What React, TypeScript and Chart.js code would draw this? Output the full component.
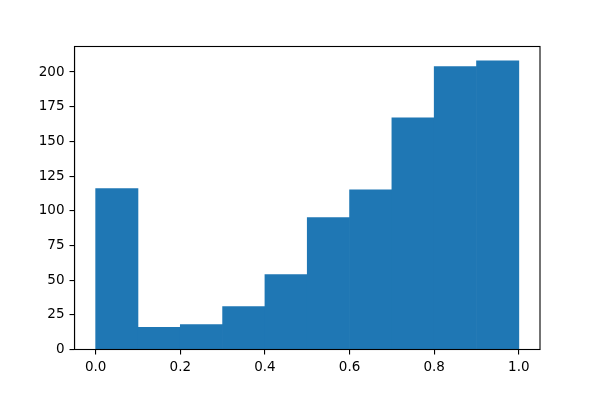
import React, { useEffect, useRef } from "react";
import { Chart, registerables } from "chart.js";

Chart.register(...registerables);

const binStarts = [0.0, 0.1, 0.2, 0.3, 0.4, 0.5, 0.6, 0.7, 0.8, 0.9];
const binWidth = 0.1;
const counts = [116, 16, 18, 31, 54, 95, 115, 167, 204, 208];
const xTicks = [0.0, 0.2, 0.4, 0.6, 0.8, 1.0];
const yTicks = [0, 25, 50, 75, 100, 125, 150, 175, 200];

const frame = {
  id: "frame",
  afterDatasetsDraw(chart: any) {
    const { ctx, chartArea } = chart;
    ctx.save();
    ctx.strokeStyle = "#000";
    ctx.lineWidth = 1.1;
    ctx.strokeRect(chartArea.left, chartArea.top, chartArea.right - chartArea.left, chartArea.bottom - chartArea.top);
    ctx.restore();
  },
};

export default function App() {
  const ref = useRef<HTMLCanvasElement | null>(null);
  useEffect(() => {
    if (!ref.current) return;
    const font = { family: "'DejaVu Sans', sans-serif", size: 13.5 };
    const chart = new Chart(ref.current, {
      type: "bar",
      data: {
        datasets: [
          {
            data: binStarts.map((s, i) => ({ x: s + binWidth / 2, y: counts[i] })),
            backgroundColor: "#1f77b4",
            borderWidth: 0,
            barPercentage: 1,
            categoryPercentage: 1,
          },
        ],
      },
      options: {
        animation: false,
        responsive: false,
        maintainAspectRatio: false,
        layout: { padding: { left: 0, right: 60, top: 46.5, bottom: 0 } },
        plugins: { legend: { display: false }, tooltip: { enabled: false } },
        scales: {
          x: {
            type: "linear",
            offset: false,
            min: -0.05,
            max: 1.05,
            grid: { offset: false, drawOnChartArea: false, drawTicks: true, tickLength: 5, tickColor: "#000", lineWidth: 1.1 },
            border: { display: true, color: "#000", width: 1.1 },
            afterBuildTicks: (scale: any) => {
              scale.ticks = xTicks.map((v) => ({ value: v }));
            },
            afterFit: (scale: any) => {
              scale.height = 50.5;
            },
            ticks: {
              color: "#000",
              font,
              padding: 5,
              maxRotation: 0,
              autoSkip: false,
              callback: (v: any) => Number(v).toFixed(1),
            },
          },
          y: {
            type: "linear",
            min: 0,
            max: 218.4,
            grid: { drawOnChartArea: false, drawTicks: true, tickLength: 5, tickColor: "#000", lineWidth: 1.1 },
            border: { display: true, color: "#000", width: 1.1 },
            afterBuildTicks: (scale: any) => {
              scale.ticks = yTicks.map((v) => ({ value: v }));
            },
            afterFit: (scale: any) => {
              scale.width = 74.5;
            },
            ticks: {
              color: "#000",
              font,
              padding: 5,
              autoSkip: false,
              callback: (v: any) => String(v),
            },
          },
        },
      },
      plugins: [frame],
    });
    return () => chart.destroy();
  }, []);
  return (
    <div style={{ position: "fixed", left: 0, top: 0, width: 600, height: 400, background: "#fff" }}>
      <canvas ref={ref} width={600} height={400} style={{ width: 600, height: 400 }} />
    </div>
  );
}
